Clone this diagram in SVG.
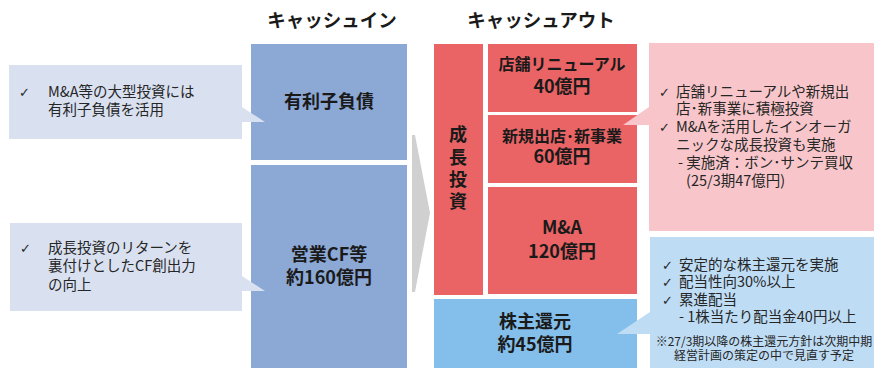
<svg xmlns="http://www.w3.org/2000/svg" width="874" height="368" viewBox="0 0 874 368">
<style>
.hdr{font-family:"Noto Sans CJK JP","Noto Sans",sans-serif;font-size:18.5px;font-weight:bold;fill:#1a1a1a;text-anchor:middle}
.lbl{font-family:"Noto Sans CJK JP","Noto Sans",sans-serif;font-size:18px;font-weight:bold;fill:#1a1a1a;text-anchor:middle}
.lbls{font-family:"Noto Sans CJK JP","Noto Sans",sans-serif;font-size:16px;font-weight:bold;fill:#1a1a1a;text-anchor:middle}
.txt{font-family:"Noto Sans CJK JP","Noto Sans",sans-serif;font-size:14.5px;fill:#262626}
.note{font-family:"Noto Sans CJK JP","Noto Sans",sans-serif;font-size:12px;fill:#262626;text-anchor:middle}
.chk{font-family:"DejaVu Sans","Noto Sans CJK JP",sans-serif;font-size:13px;fill:#262626}
.in{fill:#8CA8D5}
.red{fill:#EB6465}
.ret{fill:#84BEEA}
.cin{fill:#D9E1F1}
.cpk{fill:#F8C6CA}
.cbl{fill:#BEDDF5}
</style>
<rect width="874" height="368" fill="#ffffff"/>
<g id="headers">
<text class="hdr" x="332" y="27">キャッシュイン</text>
<text class="hdr" x="541" y="27">キャッシュアウト</text>
</g>
<g id="connectors">
<polygon points="412,135 415,135 430,213 415,292 412,292" fill="#D0D0D0"/>
</g>
<g id="node-debt">
<rect class="in" x="251" y="44" width="156" height="116"/>
<text class="lbl" x="329" y="108">有利子負債</text>
</g>
<g id="node-opcf">
<rect class="in" x="251" y="165" width="156" height="203"/>
<text class="lbl" x="329" y="261">営業CF等</text>
<text class="lbl" x="329" y="284">約160億円</text>
</g>
<g id="node-growth">
<rect class="red" x="434" y="44" width="49" height="251"/>
<text class="lbl" x="458" y="141">成</text>
<text class="lbl" x="458" y="164">長</text>
<text class="lbl" x="458" y="186">投</text>
<text class="lbl" x="458" y="208">資</text>
</g>
<g id="node-renewal">
<rect class="red" x="488" y="44" width="149" height="68"/>
<text class="lbls" x="562" y="70">店舗リニューアル</text>
<text class="lbl" x="562" y="93">40億円</text>
</g>
<g id="node-newstore">
<rect class="red" x="488" y="115" width="149" height="68"/>
<text class="lbls" x="562" y="142">新規出店･新事業</text>
<text class="lbl" x="562" y="163">60億円</text>
</g>
<g id="node-ma">
<rect class="red" x="488" y="187" width="149" height="107"/>
<text class="lbl" x="562" y="234">M&amp;A</text>
<text class="lbl" x="562" y="258">120億円</text>
</g>
<g id="node-return">
<rect class="ret" x="434" y="299" width="203" height="69"/>
<text class="lbl" x="535" y="328">株主還元</text>
<text class="lbl" x="535" y="351">約45億円</text>
</g>
<g id="callout-debt">
<path class="cin" d="M9,65 H242 V107 L265,122 H242 V139 H9 Z"/>
<text class="chk" x="19" y="97">✓</text>
<text class="txt" x="48" y="97">M&amp;A等の大型投資には</text>
<text class="txt" x="48" y="115">有利子負債を活用</text>
</g>
<g id="callout-opcf">
<path class="cin" d="M10,223 H242 V276 L265,291 H242 V311 H10 Z"/>
<text class="chk" x="20" y="253">✓</text>
<text class="txt" x="48" y="253">成長投資のリターンを</text>
<text class="txt" x="48" y="271">裏付けとしたCF創出力</text>
<text class="txt" x="48" y="290">の向上</text>
</g>
<g id="callout-growth">
<path class="cpk" d="M649,43 H874 V231 H649 V125 L623,125 L649,107 Z"/>
<text class="chk" x="659" y="97">✓</text>
<text class="txt" x="676" y="97">店舗リニューアルや新規出</text>
<text class="txt" x="676" y="114">店･新事業に積極投資</text>
<text class="chk" x="659" y="132">✓</text>
<text class="txt" x="676" y="132">M&amp;Aを活用したインオーガ</text>
<text class="txt" x="676" y="150">ニックな成長投資も実施</text>
<text class="txt" x="678" y="168">- 実施済：ボン･サンテ買収</text>
<text class="txt" x="686" y="186">(25/3期47億円)</text>
</g>
<g id="callout-return">
<path class="cbl" d="M650,237 H874 V368 H650 V334 L617,334 L650,312 Z"/>
<text class="chk" x="662" y="270">✓</text>
<text class="txt" x="679" y="270">安定的な株主還元を実施</text>
<text class="chk" x="662" y="287">✓</text>
<text class="txt" x="679" y="287">配当性向30%以上</text>
<text class="chk" x="662" y="305">✓</text>
<text class="txt" x="679" y="305">累進配当</text>
<text class="txt" x="679" y="322">- 1株当たり配当金40円以上</text>
<text class="note" x="764" y="346">※27/3期以降の株主還元方針は次期中期</text>
<text class="note" x="764" y="360">経営計画の策定の中で見直す予定</text>
</g>
</svg>
